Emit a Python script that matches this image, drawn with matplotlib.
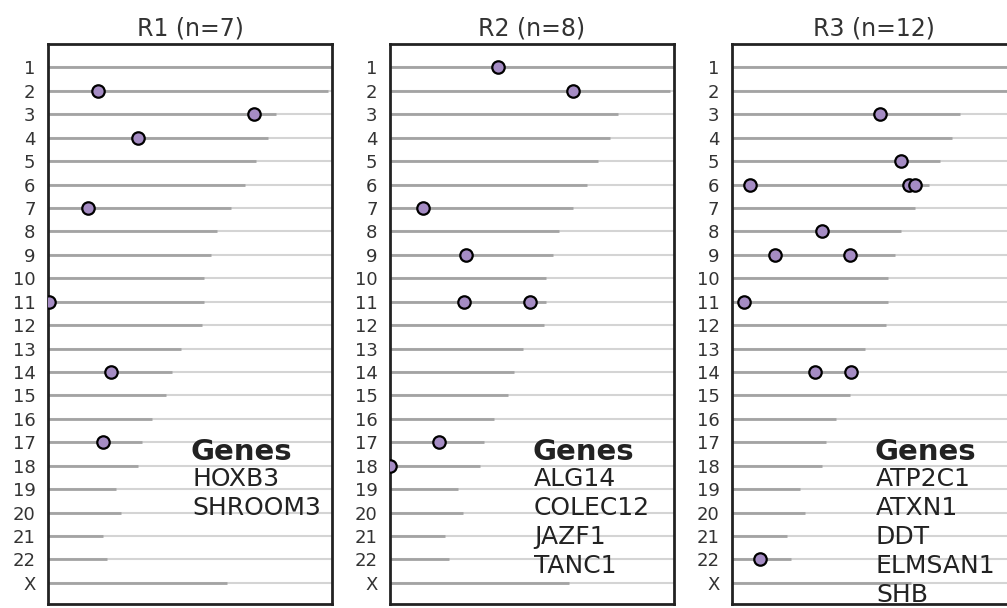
import numpy as np
import matplotlib
matplotlib.use("Agg")
import matplotlib.pyplot as plt

# chromosome names and lengths (Mb)
chroms = ["1", "2", "3", "4", "5", "6", "7", "8", "9", "10", "11", "12",
          "13", "14", "15", "16", "17", "18", "19", "20", "21", "22", "X"]
chrom_len = [249.3, 243.2, 198.0, 191.2, 180.9, 171.1, 159.1, 146.4, 141.2,
             135.5, 135.0, 133.9, 115.2, 107.3, 102.5, 90.4, 81.2, 78.1,
             59.1, 63.0, 48.1, 51.3, 155.3]

# hits per region: chromosome + position (Mb)
r1_chrom = ["2", "3", "4", "7", "11", "14", "17"]
r1_pos = [43.2, 178.9, 78.4, 34.5, 0.5, 54.4, 47.5]
r1_genes = ["HOXB3", "SHROOM3"]

r2_chrom = ["1", "2", "7", "9", "11", "11", "17", "18"]
r2_pos = [94.1, 158.6, 28.7, 65.7, 64.6, 121.6, 42.3, 0.3]
r2_genes = ["ALG14", "COLEC12", "JAZF1", "TANC1"]

r3_chrom = ["3", "5", "6", "6", "6", "8", "9", "9", "11", "14", "14", "22"]
r3_pos = [128.5, 146.8, 15.9, 153.8, 158.6, 78.4, 37.0, 102.5, 10.7, 72.4, 103.3, 24.0]
r3_genes = ["ATP2C1", "ATXN1", "DDT", "ELMSAN1", "SHB"]

panels = [("R1", r1_chrom, r1_pos, r1_genes),
          ("R2", r2_chrom, r2_pos, r2_genes),
          ("R3", r3_chrom, r3_pos, r3_genes)]

fig = plt.figure(figsize=(10.07, 6.08), dpi=100)
lefts = [0.0477, 0.3873, 0.7269]
rows = np.arange(1, len(chroms) + 1)

for left, (name, ch, pos, genes) in zip(lefts, panels):
    ax = fig.add_axes([left, 0.0066, 0.282, 0.921])
    for y, L in zip(rows, chrom_len):
        ax.axhline(y, color="#d4d4d4", lw=1.5, zorder=1)
        ax.plot([0, L], [y, y], color="#a3a3a3", lw=2, zorder=2,
                solid_capstyle="butt")
    ys = [chroms.index(c) + 1 for c in ch]
    ax.scatter(pos, ys, s=80, color="#a58cc4", edgecolor="black",
               linewidth=1.6, zorder=3)
    ax.set_xlim(0, 246.5)
    ax.set_ylim(23.9, 0.0)
    ax.set_yticks(rows)
    ax.set_yticklabels(chroms, fontsize=13, color="#333333")
    ax.set_xticks([])
    ax.tick_params(axis="y", length=0, pad=9)
    for s in ax.spines.values():
        s.set_linewidth(2)
        s.set_color("#222222")
    ax.set_title(f"{name} (n={len(ch)})", fontsize=17, color="#333333", pad=6)

    # gene list in the lower right of each panel
    ax.text(0.502, 17.42, "Genes", fontsize=21, fontweight="bold",
            color="#222222", va="center", transform=ax.get_yaxis_transform(),
            clip_on=False)
    for i, g in enumerate(genes):
        ax.text(0.507, 18.55 + i * 1.24, g, fontsize=18, color="#222222",
                va="center", transform=ax.get_yaxis_transform(), clip_on=False)

fig.savefig("out.png", dpi=100)
